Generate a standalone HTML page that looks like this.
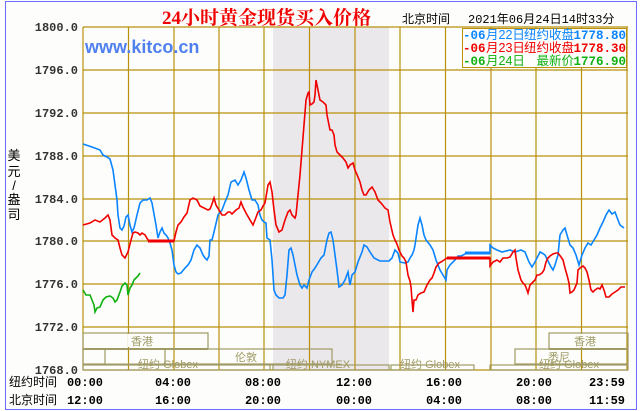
<!DOCTYPE html>
<html><head><meta charset="utf-8"><style>
html,body{margin:0;padding:0;background:#fff;}
svg{display:block;}
</style></head><body>
<svg width="640" height="411" viewBox="0 0 640 411" xmlns="http://www.w3.org/2000/svg" style="font-family:'Liberation Mono','Noto Sans CJK SC',monospace">
<rect x="0" y="0" width="640" height="411" fill="#fff"/>
<rect x="5.5" y="1.5" width="631" height="408" fill="#fdfefb" stroke="#6b6bff" stroke-width="1"/>
<rect x="83" y="27" width="545" height="343" fill="#fdfefb"/>
<rect x="273" y="27" width="116" height="343" fill="#ebe8ec"/>
<g stroke="#b8900c" stroke-width="1.2">
<line x1="83" y1="27" x2="628" y2="27"/><line x1="83" y1="70" x2="628" y2="70"/><line x1="83" y1="113" x2="628" y2="113"/><line x1="83" y1="156" x2="628" y2="156"/><line x1="83" y1="199" x2="628" y2="199"/><line x1="83" y1="241" x2="628" y2="241"/><line x1="83" y1="284" x2="628" y2="284"/><line x1="83" y1="327" x2="628" y2="327"/><line x1="83" y1="370" x2="628" y2="370"/>
<line x1="83" y1="27" x2="83" y2="370"/><line x1="128.5" y1="27" x2="128.5" y2="370"/><line x1="174" y1="27" x2="174" y2="370"/><line x1="219" y1="27" x2="219" y2="370"/><line x1="264" y1="27" x2="264" y2="370"/><line x1="309.5" y1="27" x2="309.5" y2="370"/><line x1="355" y1="27" x2="355" y2="370"/><line x1="400" y1="27" x2="400" y2="370"/><line x1="445.5" y1="27" x2="445.5" y2="370"/><line x1="491" y1="27" x2="491" y2="370"/><line x1="536" y1="27" x2="536" y2="370"/><line x1="581.5" y1="27" x2="581.5" y2="370"/><line x1="627" y1="27" x2="627" y2="370"/>
</g>
<g fill="none" stroke="#a09a66" stroke-width="1.2">
<rect x="83" y="333" width="125" height="16"/><rect x="549" y="333" width="79" height="16"/>
<rect x="83" y="349" width="22" height="15"/><rect x="165" y="349" width="167" height="15"/><rect x="515" y="349" width="113" height="15"/>
<rect x="83" y="365" width="187" height="5"/><rect x="273" y="365" width="116" height="5"/><rect x="391" y="365" width="83" height="5"/><rect x="490" y="365" width="138" height="5"/>
</g>
<g stroke="#a09a66" stroke-width="2"><line x1="83" y1="349" x2="208" y2="349"/><line x1="549" y1="349" x2="628" y2="349"/><line x1="83" y1="364.5" x2="332" y2="364.5"/><line x1="515" y1="364.5" x2="628" y2="364.5"/></g>
<g font-size="11" fill="#a09a66" text-anchor="middle" style="font-family:'Liberation Sans','Noto Sans CJK SC',sans-serif">
<rect x="128" y="334" width="28" height="13" fill="#fdfefb"/><text x="142" y="345">香港</text>
<rect x="571" y="334" width="28" height="13" fill="#fdfefb"/><text x="585" y="345">香港</text>
<rect x="232" y="350" width="28" height="13" fill="#fdfefb"/><text x="246" y="361">伦敦</text>
<rect x="545" y="350" width="28" height="13" fill="#fdfefb"/><text x="559" y="361">悉尼</text>
<text x="168" y="368">纽约 Globex</text>
<text x="318" y="368">纽约 NYMEX</text>
<text x="430" y="368">纽约 Globex</text>
<text x="569" y="368">纽约 Globex</text>
</g>
<polyline fill="none" stroke="#0a84ff" stroke-width="1.6" points="83,144 92,147 100,150 103,155 107,157 110,159 113,170 115,185 117,200 118,215 120,228 122,230 124,226 126,217 128,215 130,225 132,232 134,228 137,215 140,203 143,200 147,200 150,198 152,203 154,214 156,225 158,238 160,232 162,228 164,233 166,235 168,238 170,243 172,250 174,265 176,272 178,274 181,273 185,268 188,265 191,260 194,250 197,245 200,248 203,255 205,258 207,260 209,256 210,240 212,240 214,232 218,215 222,210 225,202 228,195 231,182 235,180 238,185 241,180 244,172 246,178 249,190 252,200 255,200 258,205 260,215 262,220 264,222 266,223 267,238 270,240 272,260 274,290 276,295 279,298 283,298 285,295 287,275 289,250 291,248 293,255 295,265 297,275 300,285 302,288 304,285 307,288 309,280 312,272 315,268 318,263 321,258 324,255 327,240 329,233 331,232 333,240 335,255 337,270 339,287 342,285 345,280 348,272 350,285 352,275 355,272 358,262 362,252 364,245 367,247 370,252 374,258 380,261 385,261 389,261 392,258 395,250 398,253 400,262 405,263 408,262 410,258 412,255 414,250 415,245 418,225 420,218 422,225 424,235 426,240 430,245 433,250 436,260 438,265 440,270 443,275 446,280 447,270 450,265 455,260 458,256 461,256 465,254 470,253 490,253 490,245 493,248 497,250 502,252 510,250 515,252 521,250 525,252 529,262 532,267 535,262 537,258 540,252 542,253 545,255 548,261 551,267 553,270 555,265 558,255 560,235 563,230 565,228 567,235 570,245 573,248 576,255 579,265 582,255 585,248 588,243 591,245 594,240 597,235 600,228 603,222 606,215 609,210 612,214 615,212 618,220 620,225 624,228"/>
<polyline fill="none" stroke="#f00000" stroke-width="1.6" points="83,225 90,223 95,220 100,222 105,218 108,215 110,220 112,235 115,238 118,240 120,248 122,255 125,258 128,252 131,240 133,233 135,232 138,233 140,235 142,233 145,235 148,240 150,241 174,241 176,232 178,225 181,222 184,217 187,213 190,200 193,198 197,200 200,206 204,208 208,210 210,209 212,204 214,198 216,205 219,210 222,215 225,215 228,212 230,212 232,214 234,212 236,210 239,208 241,202 243,207 246,213 250,220 253,225 255,220 258,212 261,210 263,206 265,203 268,185 270,182 272,192 274,210 276,225 279,232 282,230 285,220 288,212 290,210 292,215 295,218 296,215 298,195 300,175 302,150 304,125 306,100 308,93 309,92 310,105 312,104 314,102 315,95 316,80 318,90 320,100 323,102 326,105 327,115 329,125 330,130 332,130 334,135 335,145 337,152 340,155 343,158 346,162 348,168 350,165 353,163 355,170 358,177 360,182 362,190 364,195 366,195 369,190 372,187 375,192 378,200 381,203 385,208 388,210 390,222 393,235 395,240 397,244 399,250 402,256 404,258 406,262 408,275 410,281 411,287 412,300 413,312 414,300 416,300 418,295 421,293 424,292 427,285 430,280 432,278 434,273 436,267 439,263 441,262 444,260 447,258 490,258 490,266 493,262 497,260 500,262 503,258 507,258 510,257 513,252 515,250 516,258 518,270 521,280 523,283 525,285 527,290 528,293 530,285 533,282 535,280 537,275 539,275 542,273 544,270 546,262 548,258 550,256 553,254 556,253 558,253 561,257 563,260 565,268 567,275 569,283 570,293 572,292 574,290 577,283 578,270 580,268 583,266 585,268 587,272 589,280 591,290 593,292 595,290 598,288 600,289 602,285 604,290 606,297 609,297 612,294 615,292 618,290 621,287 625,287"/>
<line x1="148" y1="241" x2="174" y2="241" stroke="#f00000" stroke-width="3"/>
<line x1="447" y1="258" x2="490" y2="258" stroke="#f00000" stroke-width="3"/>
<line x1="465" y1="253" x2="490" y2="253" stroke="#0a84ff" stroke-width="3"/>
<polyline fill="none" stroke="#10b010" stroke-width="1.6" points="83,290 86,295 90,295 92,300 94,305 95,312 97,308 100,307 103,300 106,297 110,296 113,298 115,302 117,300 120,292 122,286 125,283 127,285 128,295 130,288 132,285 134,280 136,278 138,276 140,273"/>
<text x="162" y="24" font-size="19" font-weight="bold" fill="#f00000" style="font-family:'Liberation Serif','Noto Serif CJK SC',serif">24小时黄金现货买入价格</text>
<text x="402" y="23" font-size="12" fill="#000" style="font-family:'Liberation Sans','Noto Sans CJK SC',sans-serif">北京时间</text>
<text x="468" y="23" font-size="12" fill="#000">2021年06月24日14时33分</text>
<text x="85" y="53" font-size="18" font-weight="bold" fill="#5080f0" style="font-family:'Liberation Sans',sans-serif">www.kitco.cn</text>
<rect x="462.5" y="28.5" width="164" height="39" fill="#fdfefb" stroke="#b8900c"/>
<g font-size="12.5">
<g font-weight="bold"><text x="463" y="39" fill="#0a84ff">-06</text><text x="463" y="52" fill="#f00000">-06</text><text x="463" y="65" fill="#10b010">-06</text></g>
<g style="font-family:'Liberation Sans','Noto Sans CJK SC',sans-serif">
<text x="486" y="39" fill="#0a84ff">月22日</text><text x="486" y="52" fill="#f00000">月23日</text><text x="486" y="65" fill="#10b010">月24日</text>
<g text-anchor="end"><text x="574" y="39" fill="#0a84ff">纽约收盘</text><text x="574" y="52" fill="#f00000">纽约收盘</text><text x="574" y="65" fill="#10b010">最新价</text></g></g>
<g font-weight="bold" text-anchor="end"><text x="626" y="39" fill="#0a84ff">1778.80</text><text x="626" y="52" fill="#f00000">1778.30</text><text x="626" y="65" fill="#10b010">1776.90</text></g>
</g>
<g font-size="12" font-weight="bold" fill="#333" text-anchor="end">
<text x="78" y="31">1800.0</text><text x="78" y="74">1796.0</text><text x="78" y="117">1792.0</text><text x="78" y="160">1788.0</text><text x="78" y="203">1784.0</text><text x="78" y="245">1780.0</text><text x="78" y="288">1776.0</text><text x="78" y="331">1772.0</text><text x="78" y="374">1768.0</text>
</g>
<g font-size="13" fill="#000" text-anchor="middle" style="font-family:'Liberation Sans','Noto Sans CJK SC',sans-serif">
<text x="14" y="160">美</text><text x="14" y="176">元</text><text x="14" y="190">/</text><text x="14" y="204">盎</text><text x="14" y="219">司</text>
</g>
<g font-size="12" fill="#000" style="font-family:'Liberation Sans','Noto Sans CJK SC',sans-serif">
<text x="9" y="386">纽约时间</text><text x="9" y="404">北京时间</text></g>
<g font-size="12" font-weight="bold" fill="#000" text-anchor="middle">
<text x="85" y="386">00:00</text><text x="173" y="386">04:00</text><text x="263" y="386">08:00</text><text x="354" y="386">12:00</text><text x="444" y="386">16:00</text><text x="534" y="386">20:00</text><text x="607" y="386">23:59</text>
<text x="85" y="404">12:00</text><text x="173" y="404">16:00</text><text x="263" y="404">20:00</text><text x="354" y="404">00:00</text><text x="444" y="404">04:00</text><text x="534" y="404">08:00</text><text x="607" y="404">11:59</text>
</g>
</svg>
</body></html>
